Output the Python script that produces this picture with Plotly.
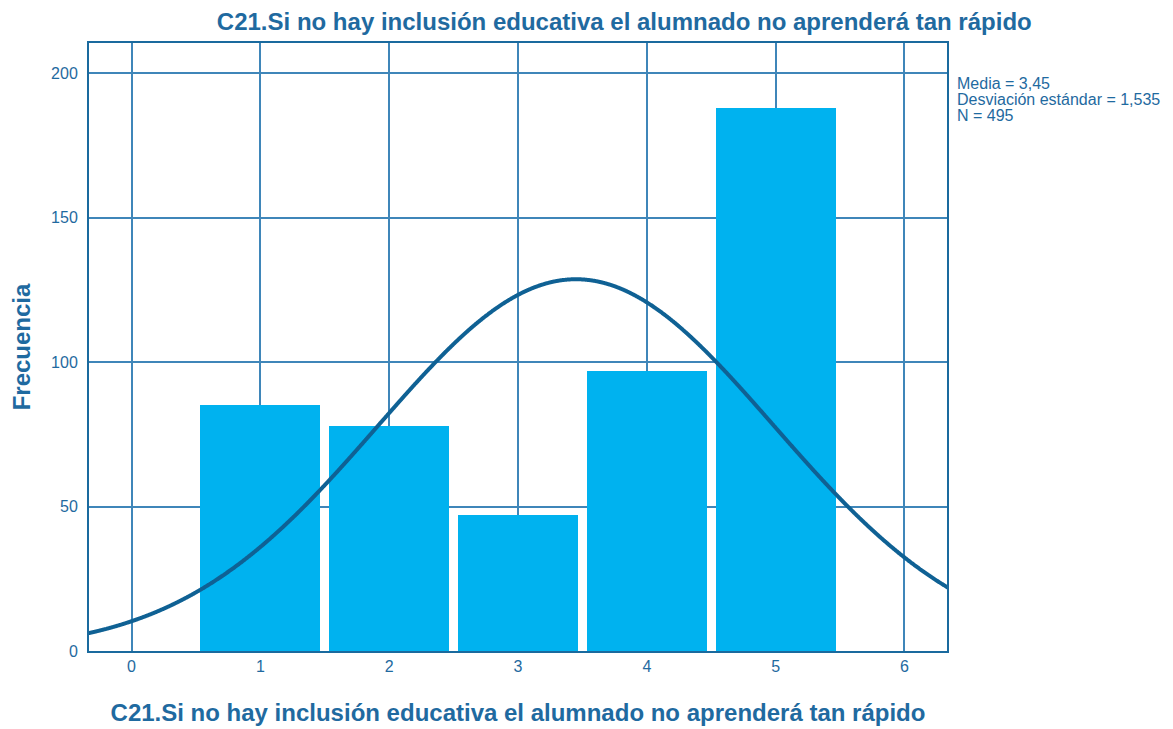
import numpy as np
import plotly.graph_objects as go

# Data
categories = [1, 2, 3, 4, 5]
frequencies = [85, 78, 47, 97, 188]
mean_val = 3.45
sd_val = 1.535
n_val = 495
x_ticks = [0, 1, 2, 3, 4, 5, 6]
y_ticks = [0, 50, 100, 150, 200]
title_text = "C21.Si no hay inclusión educativa el alumnado no aprenderá tan rápido"
stats_lines = ["Media = 3,45", "Desviación estándar = 1,535", "N = 495"]

TXT = "#1f6aa0"
GRID = "#3f86b9"

# Normal curve implied by the stated mean, SD and N (bin width 1)
xc = np.linspace(-0.4, 6.4, 1200)
yc = n_val * 1.0 / (sd_val * np.sqrt(2 * np.pi)) * np.exp(-0.5 * ((xc - mean_val) / sd_val) ** 2)

fig = go.Figure()
fig.add_trace(go.Bar(x=categories, y=frequencies, width=0.93,
                     marker=dict(color="#00b2ef", line=dict(width=0)),
                     hoverinfo="x+y"))
fig.add_trace(go.Scatter(x=xc, y=yc, mode="lines",
                         line=dict(color="#0f6194", width=4, shape="spline", simplify=False),
                         hoverinfo="skip"))

fig.update_layout(
    width=1165, height=721,
    margin=dict(l=81, r=226, t=35, b=78, autoexpand=False),
    plot_bgcolor="white", paper_bgcolor="white",
    showlegend=False, bargap=0,
    font=dict(family="Liberation Sans, Arial, sans-serif", color=TXT, size=16),
    title=dict(text="<b>" + title_text + "</b>", x=0.529, xanchor="center",
               y=0.981, yanchor="middle", font=dict(size=24, color=TXT)),
    xaxis=dict(range=[-0.33, 6.33], tickvals=x_ticks, ticktext=[str(v) for v in x_ticks],
               showgrid=True, gridcolor=GRID, gridwidth=1.5,
               showline=True, linecolor="#1a6a9e", linewidth=2, mirror=True,
               zeroline=False, ticks="", ticklen=0, automargin=False,
               title=dict(text="<b>" + title_text + "</b>", font=dict(size=24, color=TXT), standoff=30)),
    yaxis=dict(range=[0, 210.4], tickvals=y_ticks, ticktext=[str(v) for v in y_ticks],
               showgrid=True, gridcolor=GRID, gridwidth=1.5,
               showline=True, linecolor="#1a6a9e", linewidth=2, mirror=True,
               zeroline=False, ticks="", ticklen=0, automargin=False, ticklabelstandoff=6,
               title=dict(text="<b>Frecuencia</b>", font=dict(size=24, color=TXT), standoff=26)),
)
for i, line in enumerate(stats_lines):
    fig.add_annotation(x=1.009, y=0.934 - 0.027 * i, xref="paper", yref="paper",
                       xanchor="left", yanchor="middle",
                       text=line, showarrow=False, align="left",
                       font=dict(size=16, color=TXT))

fig.write_html("out.html")
